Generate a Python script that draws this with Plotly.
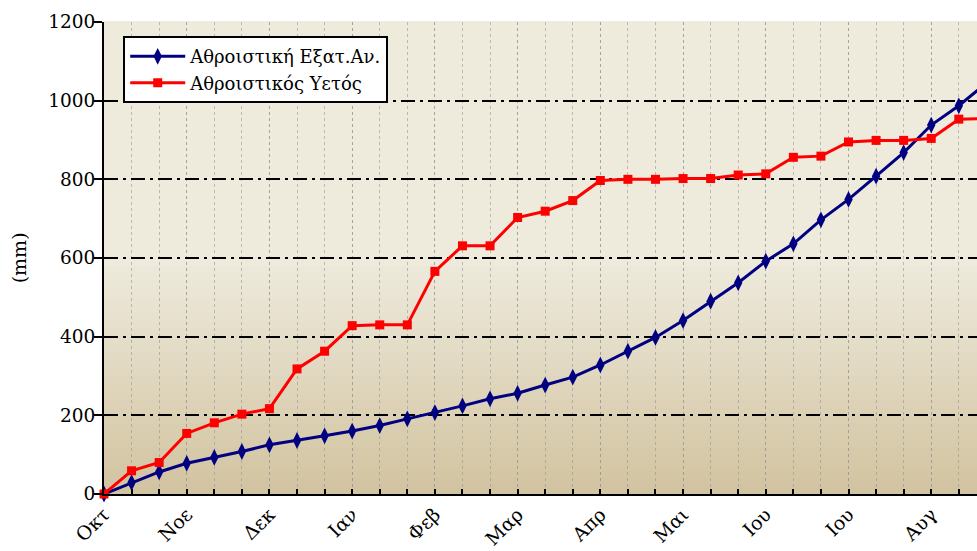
import plotly.graph_objects as go

# ---- data ----
months = ["Οκτ", "Νοε", "Δεκ", "Ιαν", "Φεβ", "Μαρ", "Απρ", "Μαι", "Ιου", "Ιου", "Αυγ"]
periods_per_month = 3
cum_et = [0, 29, 56, 78, 93, 108, 125, 136, 148, 160, 174, 191, 207, 224, 242, 256,
          277, 297, 328, 363, 398, 441, 490, 537, 592, 636, 697, 749, 808, 868, 938,
          987, 1045]
cum_rain = [0, 59, 80, 154, 181, 203, 217, 318, 363, 428, 430, 430, 566, 631, 631,
            703, 719, 746, 797, 800, 800, 802, 802, 811, 814, 856, 859, 895, 899, 899,
            904, 953, 955]
series_names = ["Αθροιστική Εξατ.Αν.", "Αθροιστικός Υετός"]
x_idx = list(range(len(cum_et)))
month_ticks = [i * periods_per_month for i in range(len(months))]

FONT = "DejaVu Serif"

fig = go.Figure()
fig.add_trace(go.Scatter(
    x=x_idx, y=cum_et, name=series_names[0], mode="lines+markers",
    line=dict(color="#000080", width=3),
    marker=dict(symbol="diamond-tall", size=12, color="#000080"),
    cliponaxis=False,
))
fig.add_trace(go.Scatter(
    x=x_idx, y=cum_rain, name=series_names[1], mode="lines+markers",
    line=dict(color="#FF0000", width=3),
    marker=dict(symbol="square", size=9, color="#FF0000"),
    cliponaxis=False,
))

# gradient background bands
def lerp(c1, c2, t):
    return "rgb(%d,%d,%d)" % tuple(round(a + (b - a) * t) for a, b in zip(c1, c2))

bottom = (210, 195, 160)
top = (238, 235, 221)
nb = 60
shapes = []
for i in range(nb):
    y0 = i / nb
    y1 = (i + 1) / nb
    t = min(1.0, ((y0 + y1) / 2) / 0.5)
    shapes.append(dict(type="rect", xref="paper", yref="paper", x0=0, x1=1,
                       y0=y0, y1=y1 + 0.002, fillcolor=lerp(bottom, top, t),
                       line=dict(width=0), layer="below"))

fig.update_layout(
    width=977, height=551,
    margin=dict(l=104, r=0, t=22, b=57, autoexpand=False),
    paper_bgcolor="white",
    plot_bgcolor=lerp(top, top, 0),
    shapes=shapes,
    font=dict(family=FONT, size=18, color="black"),
    showlegend=True,
    legend=dict(x=0.022, y=0.97, xanchor="left", yanchor="top",
                bgcolor="white", bordercolor="black", borderwidth=2,
                font=dict(family=FONT, size=18), itemwidth=55,
                tracegroupgap=0),
    annotations=[dict(text="(mm)", xref="paper", yref="paper", x=-0.097, y=0.5,
                      textangle=-90, showarrow=False, xanchor="center",
                      yanchor="middle", font=dict(family=FONT, size=19))],
)

fig.update_xaxes(
    automargin=False,
    range=[0, 31.66],
    tickmode="array", tickvals=month_ticks, ticktext=months,
    tickangle=-45, tickfont=dict(family=FONT, size=19),
    ticks="inside", ticklen=5, tickwidth=2, tickcolor="black",
    showline=True, linecolor="black", linewidth=2,
    showgrid=True, gridcolor="rgba(150,150,150,0.6)", griddash="dot", gridwidth=1,
    minor=dict(dtick=1, tick0=0, ticks="inside", ticklen=5, tickwidth=2,
               tickcolor="black", showgrid=True,
               gridcolor="rgba(150,150,150,0.6)", griddash="dot", gridwidth=1),
    zeroline=False,
)
fig.update_yaxes(
    automargin=False,
    range=[0, 1200], dtick=200,
    ticks="outside", ticklen=8, tickwidth=1.5, tickcolor="black",
    tickfont=dict(family=FONT, size=18.5),
    ticklabelstandoff=-5,
    showline=True, linecolor="black", linewidth=2,
    showgrid=True, gridcolor="black", gridwidth=1.5,
    griddash="14px,5px,3px,5px",
    zeroline=False,
)

fig.write_html("out.html",
               config={"displayModeBar": False},
               post_script="document.body.style.margin='0';"
                           "document.body.style.overflow='hidden';")
